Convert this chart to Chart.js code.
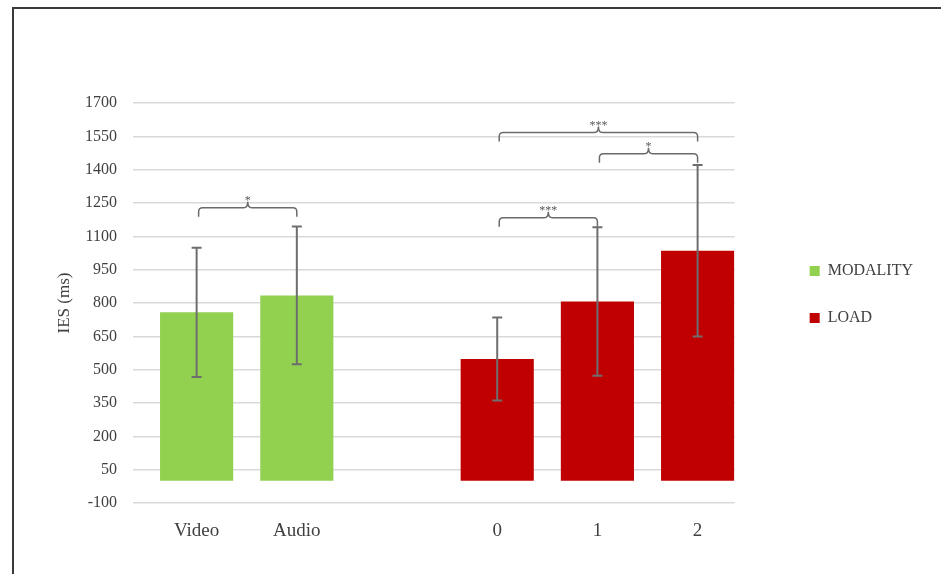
<!DOCTYPE html>
<html>
<head>
<meta charset="utf-8">
<script src="https://cdn.jsdelivr.net/npm/chart.js@4.4.1/dist/chart.umd.min.js"></script>
<style>
html,body{margin:0;padding:0;background:#fff;width:941px;height:574px;overflow:hidden}
#frame{position:absolute;left:12px;top:7px;width:960px;height:620px;border-left:2px solid #3a3a3a;border-top:2px solid #3a3a3a;box-sizing:border-box}
#c{position:absolute;left:0;top:0}
</style>
</head>
<body>
<div id="frame"></div>
<canvas id="c" width="941" height="574"></canvas>
<script>
// ---- data ----
const categories = ['Video', 'Audio', '', '0', '1', '2'];
const categoryIndex = [0, 1, 2, 3, 4, 5];
const modalityValues = [758, 834, null, null, null, null];
const modalityErrors = [291, 310, null, null, null, null];
const loadValues = [null, null, null, 548, 807, 1035];
const loadErrors = [null, null, null, 187, 334, 386];
const yMin = -100, yMax = 1700, yStep = 150;
// significance brackets: category indices, bracket level (value units), label
const bracketFrom = [0, 3, 4, 3];
const bracketTo = [1, 4, 5, 5];
const bracketLevel = [1229, 1184, 1472, 1567];
const bracketLabel = ['*', '***', '*', '***'];

const FONT = "'Liberation Serif', 'Times New Roman', serif";
const TEXT = '#404040';

const errorBarPlugin = {
  id: 'errorBars',
  afterDatasetsDraw(chart) {
    const ctx = chart.ctx, ys = chart.scales.y;
    const errs = [modalityErrors, loadErrors];
    ctx.save();
    ctx.strokeStyle = '#6e6e6e';
    ctx.lineWidth = 2;
    chart.data.datasets.forEach((ds, i) => {
      const meta = chart.getDatasetMeta(i);
      meta.data.forEach((bar, j) => {
        const v = ds.data[j], e = errs[i][j];
        if (v == null || e == null) return;
        const x = bar.x;
        const yt = ys.getPixelForValue(v + e), yb = ys.getPixelForValue(v - e);
        ctx.beginPath();
        ctx.moveTo(x, yt); ctx.lineTo(x, yb);
        ctx.moveTo(x - 5, yt); ctx.lineTo(x + 5, yt);
        ctx.moveTo(x - 5, yb); ctx.lineTo(x + 5, yb);
        ctx.stroke();
      });
    });
    ctx.restore();
  }
};

const bracketPlugin = {
  id: 'brackets',
  afterDatasetsDraw(chart) {
    const ctx = chart.ctx, xs = chart.scales.x, ys = chart.scales.y;
    ctx.save();
    ctx.strokeStyle = '#6b6b6b';
    ctx.lineWidth = 1.5;
    ctx.fillStyle = '#595959';
    ctx.font = '12px ' + FONT;
    ctx.textAlign = 'center';
    ctx.textBaseline = 'alphabetic';
    for (let k = 0; k < bracketFrom.length; k++) {
      const x1 = xs.getPixelForValue(bracketFrom[k]) + 2;
      const x2 = xs.getPixelForValue(bracketTo[k]);
      const xm = (x1 + x2) / 2;
      const y = ys.getPixelForValue(bracketLevel[k]);
      const leg = 9, r = 4, cusp = 6;
      ctx.beginPath();
      ctx.moveTo(x1, y + leg);
      ctx.lineTo(x1, y + r);
      ctx.quadraticCurveTo(x1, y, x1 + r, y);
      ctx.lineTo(xm - r, y);
      ctx.quadraticCurveTo(xm, y, xm, y - cusp);
      ctx.quadraticCurveTo(xm, y, xm + r, y);
      ctx.lineTo(x2 - r, y);
      ctx.quadraticCurveTo(x2, y, x2, y + r);
      ctx.lineTo(x2, y + leg);
      ctx.stroke();
      ctx.fillText(bracketLabel[k], xm, y - 4);
    }
    ctx.restore();
  }
};

new Chart(document.getElementById('c'), {
  type: 'bar',
  data: {
    labels: categoryIndex,
    datasets: [
      { label: 'MODALITY', data: modalityValues, backgroundColor: '#92D050', borderWidth: 0 },
      { label: 'LOAD', data: loadValues, backgroundColor: '#C00000', borderWidth: 0 }
    ]
  },
  options: {
    responsive: false,
    animation: false,
    devicePixelRatio: 1,
    layout: { padding: { left: 50, right: 18, top: 47, bottom: 32 } },
    datasets: { bar: { grouped: false, categoryPercentage: 1, barPercentage: 0.73 } },
    scales: {
      x: {
        type: 'linear',
        min: -0.635, max: 5.37,
        offset: false,
        grid: { display: false, drawTicks: false },
        border: { display: false },
        ticks: {
          stepSize: 1, includeBounds: false, autoSkip: false, maxRotation: 0,
          padding: 17, color: TEXT, font: { family: FONT, size: 19 },
          callback: v => (Number.isInteger(v) && categories[v] !== undefined) ? categories[v] : ''
        },
        afterFit(s) { s.height = 39; }
      },
      y: {
        min: yMin, max: yMax,
        ticks: { stepSize: yStep, padding: 16, color: TEXT, font: { family: FONT, size: 16 }, callback: v => String(v) },
        grid: { color: '#d9d9d9', lineWidth: 1.5, drawTicks: false },
        border: { display: false },
        title: { display: true, text: 'IES (ms)', color: TEXT, font: { family: FONT, size: 17 }, padding: { top: 4, bottom: 4 } },
        afterFit(s) { s.width = 83; }
      },
      yPad: {
        position: 'right',
        display: true,
        grid: { display: false, drawTicks: false },
        border: { display: false },
        ticks: { display: false },
        afterFit(s) { s.width = 44; }
      }
    },
    plugins: {
      title: { display: true, text: '', padding: { top: 0, bottom: 46 }, font: { size: 10, lineHeight: 1 } },
      legend: {
        position: 'right', align: 'center',
        labels: { boxWidth: 10, boxHeight: 10, padding: 31, color: TEXT, font: { family: FONT, size: 16 } }
      },
      tooltip: { enabled: false }
    }
  },
  plugins: [errorBarPlugin, bracketPlugin]
});
</script>
</body>
</html>
